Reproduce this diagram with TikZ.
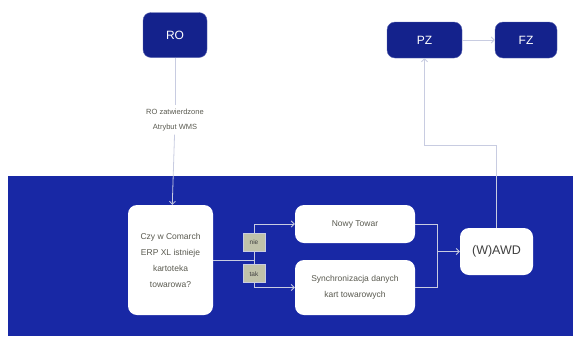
\documentclass[tikz,border=0pt]{standalone}
\usepackage{fontspec}
\setmainfont{Liberation Sans}
\usepackage{tikz}
\usetikzlibrary{arrows.meta,positioning,calc}
\definecolor{panelblue}{RGB}{24,40,165}
\definecolor{navy}{RGB}{20,34,140}
\definecolor{linegrey}{RGB}{200,204,225}
\definecolor{textgrey}{RGB}{90,90,80}
\definecolor{tagfill}{RGB}{192,194,170}

\begin{document}
\begin{tikzpicture}[x=1pt,y=-1pt,
    darkbox/.style={rectangle,rounded corners=8pt,fill=navy,draw=navy!70!white,
      text=white,font=\fontsize{12}{14}\selectfont,inner sep=0pt},
    whitebox/.style={rectangle,rounded corners=9pt,fill=white,text=textgrey,
      font=\fontsize{8.5}{16}\selectfont,align=center,inner sep=0pt},
    tag/.style={rectangle,fill=tagfill,draw=linegrey,text=black!75,
      font=\fontsize{6.5}{7}\selectfont,minimum width=22pt,minimum height=18pt,inner sep=0pt},
    link/.style={draw=linegrey,line width=0.8pt},
    >={Straight Barb[length=3pt,width=6pt]}]
  \useasboundingbox (0,0) rectangle (573,338);
  \fill[panelblue] (8,176) rectangle (573,336);

  \node[darkbox,minimum width=64pt,minimum height=45pt] (ro) at (175,35) {RO};
  \node[darkbox,minimum width=75pt,minimum height=36pt] (pz) at (424.5,40) {PZ};
  \node[darkbox,minimum width=62pt,minimum height=36pt] (fz) at (526,40) {FZ};
  \node[align=center,text=textgrey,font=\fontsize{7.5}{15}\selectfont] (rolabel) at (175,120)
    {RO zatwierdzone\\Atrybut WMS};

  \node[whitebox,minimum width=85pt,minimum height=110pt] (question) at (170.5,260)
    {Czy w Comarch\\ERP XL istnieje\\kartoteka\\towarowa?};
  \node[whitebox,minimum width=120pt,minimum height=38pt] (nowy) at (355,224) {Nowy Towar};
  \node[whitebox,minimum width=120pt,minimum height=55pt] (sync) at (355,287.5)
    {Synchronizacja danych\\kart towarowych};
  \node[whitebox,minimum width=73pt,minimum height=47pt,text=black!75,
    font=\fontsize{12.5}{14}\selectfont] (awd) at (496.5,251.5) {(W)AWD};

  \coordinate (split) at (254,260);
  \coordinate (merge) at (437,251.5);
  \coordinate (turn) at (496.5,145);

  \draw[link] (ro) -- (rolabel);
  \draw[link,->] (rolabel) -- (question);
  \draw[link] (question) -- (split);
  \draw[link,->] (split) |- node[tag,pos=0.25] (nie) {nie} (nowy);
  \draw[link,->] (split) |- node[tag,pos=0.25] (tak) {tak} (sync);
  \draw[link] (nowy) -| (merge);
  \draw[link] (sync) -| (merge);
  \draw[link,->] (merge) -- (awd);
  \draw[link,->] (awd) -- (turn) -| (pz);
  \draw[link,->] (pz) -- (fz);
\end{tikzpicture}
\end{document}
